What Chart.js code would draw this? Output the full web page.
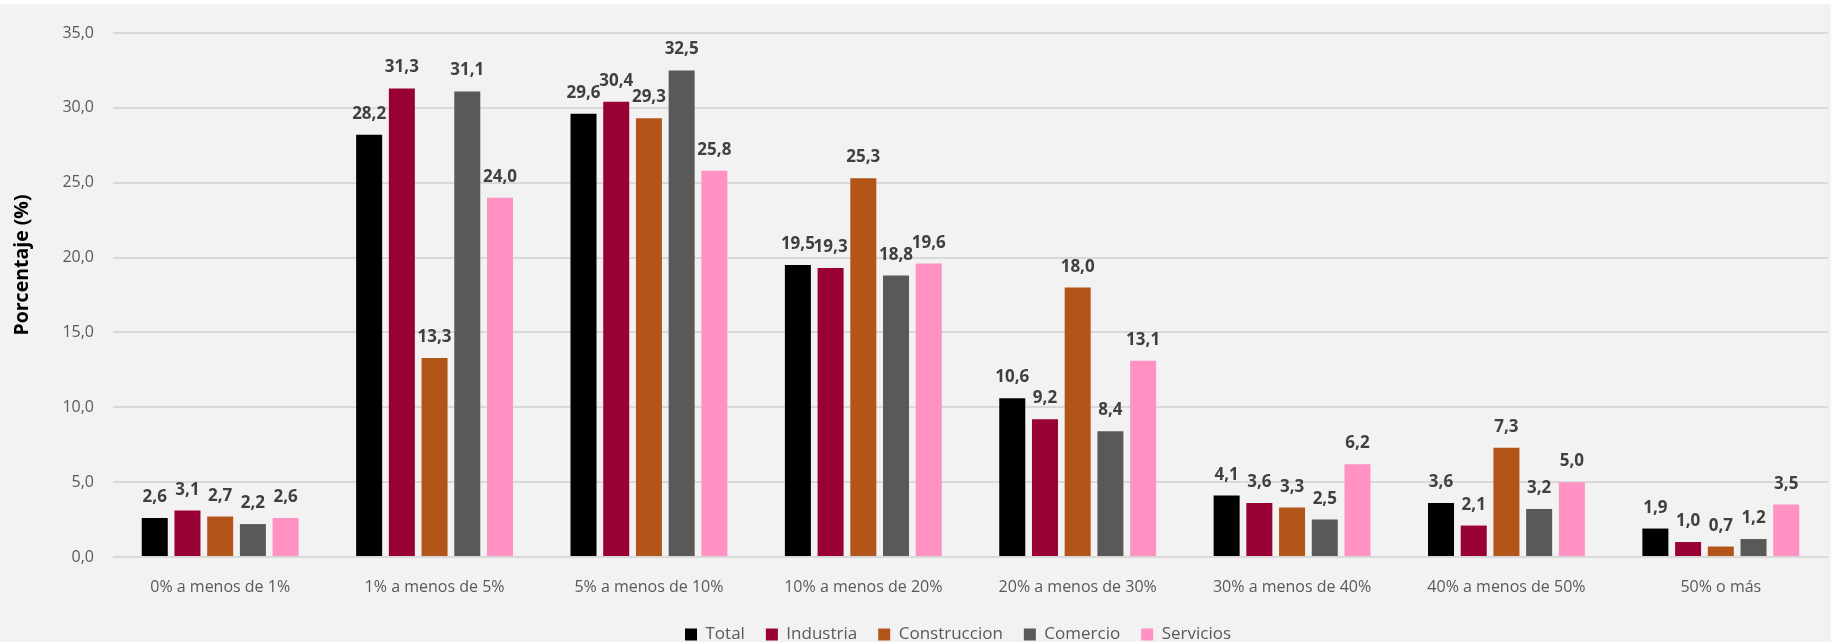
<!DOCTYPE html>
<html>
<head>
<meta charset="utf-8">
<script src="https://cdn.jsdelivr.net/npm/chart.js@4.4.1/dist/chart.umd.min.js"></script>
<style>
  html, body { margin: 0; padding: 0; background: #ffffff; }
  .wrap { margin-top: 4px; width: 1831px; height: 638px; background: #f2f2f2; }
</style>
</head>
<body>
<div class="wrap"><canvas id="chart" width="1831" height="638"></canvas></div>
<script>
// ---- Data ----
const categories = ['0% a menos de 1%', '1% a menos de 5%', '5% a menos de 10%', '10% a menos de 20%',
  '20% a menos de 30%', '30% a menos de 40%', '40% a menos de 50%', '50% o más'];
const seriesNames = ['Total', 'Industria', 'Construccion', 'Comercio', 'Servicios'];
const total = [2.6, 28.2, 29.6, 19.5, 10.6, 4.1, 3.6, 1.9];
const industria = [3.1, 31.3, 30.4, 19.3, 9.2, 3.6, 2.1, 1.0];
const construccion = [2.7, 13.3, 29.3, 25.3, 18.0, 3.3, 7.3, 0.7];
const comercio = [2.2, 31.1, 32.5, 18.8, 8.4, 2.5, 3.2, 1.2];
const servicios = [2.6, 24.0, 25.8, 19.6, 13.1, 6.2, 5.0, 3.5];
const yTicks = [0, 5, 10, 15, 20, 25, 30, 35];
const yTitle = 'Porcentaje (%)';

const colors = ['#000000', '#990033', '#b35418', '#595959', '#ff92c2'];
const FONT = "'Open Sans', 'Noto Sans', sans-serif";

const fmt = v => v.toFixed(1).replace('.', ',');

// value labels above each bar + rotated y title
const labelPlugin = {
  id: 'barLabels',
  afterLayout(chart) {
    // legend sits a bit right of the canvas centre and lower in the original
    const lg = chart.legend;
    lg.left += 44;
    lg.right += 44;
    lg.top += 11;
    lg.bottom += 11;
  },
  afterDatasetsDraw(chart) {
    const ctx = chart.ctx;
    ctx.save();
    ctx.font = `bold 17px ${FONT}`;
    ctx.fillStyle = '#404040';
    ctx.textAlign = 'center';
    ctx.textBaseline = 'alphabetic';
    chart.data.datasets.forEach((ds, i) => {
      chart.getDatasetMeta(i).data.forEach((bar, j) => {
        ctx.fillText(fmt(ds.data[j]), bar.x, bar.y - 16);
      });
    });
    ctx.restore();

    ctx.save();
    ctx.font = `bold 19.5px ${FONT}`;
    ctx.fillStyle = '#000000';
    ctx.textAlign = 'center';
    ctx.textBaseline = 'middle';
    ctx.translate(22, 261);
    ctx.rotate(-Math.PI / 2);
    ctx.fillText(yTitle, 0, 0);
    ctx.restore();
  }
};

const seriesData = [total, industria, construccion, comercio, servicios];

new Chart(document.getElementById('chart').getContext('2d'), {
  type: 'bar',
  data: {
    labels: categories,
    datasets: seriesNames.map((name, i) => ({
      label: name,
      data: seriesData[i],
      backgroundColor: colors[i],
      borderWidth: 0,
      barPercentage: 0.795,
      categoryPercentage: 0.763
    }))
  },
  options: {
    responsive: false,
    animation: false,
    layout: { padding: { top: 29, right: 3, left: 0, bottom: 0 } },
    plugins: {
      tooltip: { enabled: false },
      legend: {
        position: 'bottom',
        labels: {
          boxWidth: 12,
          boxHeight: 12,
          padding: 21,
          color: '#595959',
          font: { family: FONT, size: 17 }
        }
      }
    },
    scales: {
      y: {
        min: 0,
        max: 35,
        afterFit: s => { s.width = 113; },
        afterBuildTicks: s => { s.ticks = yTicks.map(v => ({ value: v })); },
        ticks: {
          padding: 19,
          color: '#595959',
          font: { family: FONT, size: 16 },
          callback: v => fmt(v)
        },
        grid: { color: '#d9d9d9', lineWidth: 2, drawTicks: false },
        border: { display: false }
      },
      x: {
        afterFit: s => { s.height = 37; },
        ticks: {
          padding: 21,
          color: '#595959',
          font: { family: FONT, size: 16 }
        },
        grid: { display: false, drawTicks: false },
        border: { display: false }
      }
    }
  },
  plugins: [labelPlugin]
});
</script>
</body>
</html>
